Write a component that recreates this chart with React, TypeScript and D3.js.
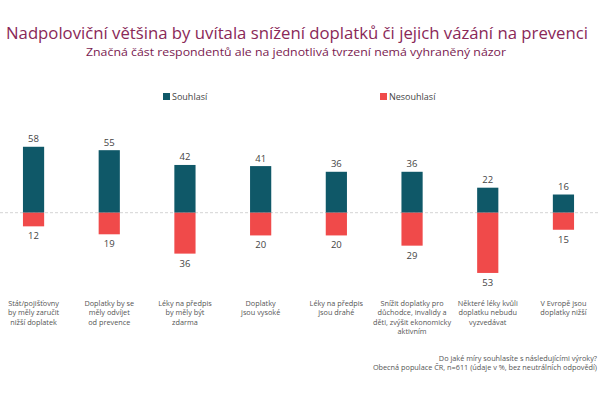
import React from "react";
import * as d3 from "d3";

const categories: string[][] = [
  ["Stát/pojišťovny", "by měly zaručit", "nižší doplatek"],
  ["Doplatky by se", "měly odvíjet", "od prevence"],
  ["Léky na předpis", "by měly být", "zdarma"],
  ["Doplatky", "jsou vysoké"],
  ["Léky na předpis", "jsou drahé"],
  ["Snížit doplatky pro", "důchodce, invalidy a", "děti, zvýšit ekonomicky", "aktivním"],
  ["Některé léky kvůli", "doplatku nebudu", "vyzvedávat"],
  ["V Evropě jsou", "doplatky nižší"],
];
const agree: number[] = [58, 55, 42, 41, 36, 36, 22, 16];
const disagree: number[] = [12, 19, 36, 20, 20, 29, 53, 15];
const seriesNames = ["Souhlasí", "Nesouhlasí"];
const title = "Nadpoloviční většina by uvítala snížení doplatků či jejich vázání na prevenci";
const subtitle = "Značná část respondentů ale na jednotlivá tvrzení nemá vyhraněný názor";
const footnote = [
  "Do jaké míry souhlasíte s následujícími výroky?",
  "Obecná populace ČR, n=611 (údaje v %, bez neutrálních odpovědí)",
];

const W = 600;
const H = 400;
const TEAL = "#0f5868";
const RED = "#f04a4a";

export default function App() {
  const idx = categories.map((_, i) => String(i));
  const x = d3.scaleBand<string>().domain(idx).range([-4.3, 601.3]).paddingInner(0.72).paddingOuter(0.36);
  const y = d3.scaleLinear().domain([-60, 60]).range([280.9, 144.5]);
  const y0 = y(0);
  const bw = x.bandwidth();
  const font = "'Open Sans', 'Noto Sans', sans-serif";

  return (
    <svg width={W} height={H} style={{ position: "absolute", left: 0, top: 0, background: "#fff" }} fontFamily={font}>
      <rect x={0} y={0} width={W} height={H} fill="#fff" />
      <text x={297} y={39} textAnchor="middle" fontSize={16.4} fill="#8a2858" textLength={582} lengthAdjust="spacingAndGlyphs">{title}</text>
      <text x={296} y={56} textAnchor="middle" fontSize={11.4} fill="#7a2150" textLength={420} lengthAdjust="spacingAndGlyphs">{subtitle}</text>

      {/* legend */}
      <rect x={163} y={93} width={7} height={7} fill={TEAL} />
      <text x={172} y={100} fontSize={9} fill="#444">{seriesNames[0]}</text>
      <rect x={380} y={93} width={7} height={7} fill={RED} />
      <text x={389} y={100} fontSize={9} fill="#444">{seriesNames[1]}</text>

      {/* zero line */}
      <line x1={0} x2={W} y1={y0} y2={y0} stroke="#c8c8c8" strokeWidth={0.8} strokeDasharray="3,2" />

      {idx.map((k, i) => {
        const cx = (x(k) as number) + bw / 2;
        return (
          <g key={k}>
            <rect x={x(k)} y={y(agree[i])} width={bw} height={y0 - y(agree[i])} fill={TEAL} />
            <rect x={x(k)} y={y0} width={bw} height={y(-disagree[i]) - y0} fill={RED} />
            <text x={cx} y={y(agree[i]) - 4.5} textAnchor="middle" fontSize={9.5} fill="#444">{agree[i]}</text>
            <text x={cx} y={y(-disagree[i]) + 13} textAnchor="middle" fontSize={9.5} fill="#444">{disagree[i]}</text>
            {categories[i].map((line, j) => (
              <text key={j} x={cx} y={306 + j * 9.3} textAnchor="middle" fontSize={7.3} fill="#555">{line}</text>
            ))}
          </g>
        );
      })}

      {footnote.map((t, j) => (
        <text key={j} x={597} y={361 + j * 9} textAnchor="end" fontSize={7.3} fill="#555">{t}</text>
      ))}
    </svg>
  );
}
